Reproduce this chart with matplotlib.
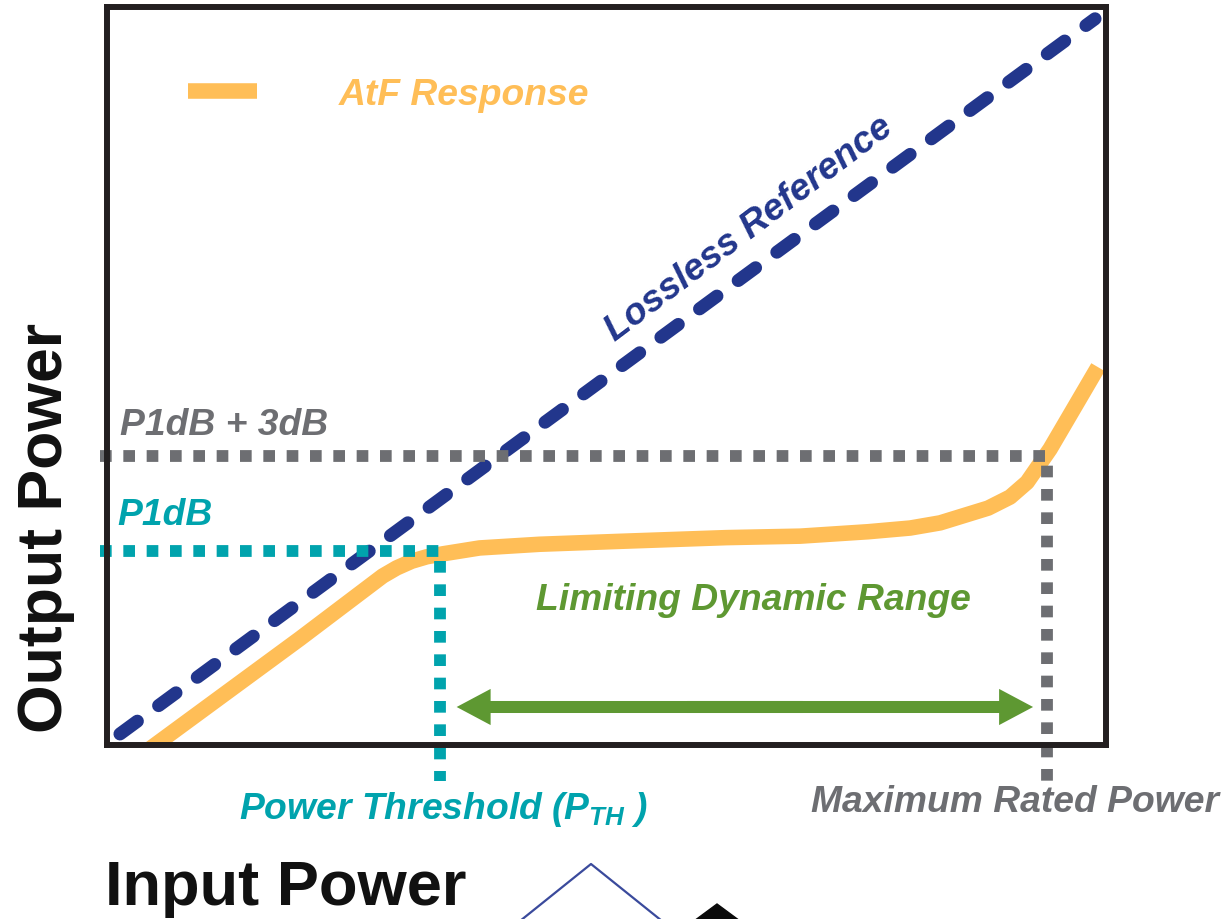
import matplotlib
matplotlib.use('Agg')
import matplotlib.pyplot as plt
from matplotlib.lines import Line2D
from matplotlib.patches import Polygon

plt.rcParams['font.family'] = ['Liberation Sans', 'DejaVu Sans']
plt.rcParams['mathtext.fontset'] = 'custom'
plt.rcParams['mathtext.it'] = 'Liberation Sans:italic:bold'
plt.rcParams['mathtext.rm'] = 'Liberation Sans:bold'
plt.rcParams['mathtext.bf'] = 'Liberation Sans:bold'
plt.rcParams['lines.scale_dashes'] = False

# ---------------- data (relative power units, 0..100) ----------------
atf_x = [1.5, 19.3, 27.6, 29.0, 30.5, 32.0, 33.6, 37.3, 43.3, 51.4, 62.0,
         69.4, 76.2, 80.4, 83.4, 88.2, 90.4, 92.1, 94.4, 99.2]
atf_y = [-3.3, 14.4, 22.9, 24.0, 24.9, 25.5, 25.9, 26.7, 27.2, 27.6, 28.1,
         28.3, 28.9, 29.4, 30.1, 32.1, 33.6, 35.6, 40.1, 51.2]

lossless_x = [1.3, 98.9]
lossless_y = [1.5, 98.4]

threshold_x = 33.3      # Power threshold (P_TH)
max_rated_x = 94.1      # Maximum rated power
p1db_y = 26.3           # P1dB
p1db3_y = 39.2          # P1dB + 3dB
axis_min = -0.7
below_axis = [-4.9, -5.3]   # how far the drop lines extend below the axis

range_x = [35.0, 92.7]  # limiting dynamic range arrow tips
range_y = 5.15

# ---------------- colours ----------------
ORANGE = '#FFBE57'
NAVY = '#22368C'
TEAL = '#00A3AD'
GRAY = '#6D6E72'
GREEN = '#5E9832'
FRAME = '#231F20'

fig = plt.figure(figsize=(12.28, 9.2), dpi=100)
ax = fig.add_axes([107 / 1228, (920 - 746) / 920, 999 / 1228, 738 / 920])
ax.set_xlim(0, 100)
ax.set_ylim(0, 100)
ax.set_xticks([])
ax.set_yticks([])
for s in ax.spines.values():
    s.set_linewidth(4.3)
    s.set_color(FRAME)
    s.set_zorder(10)

# AtF response
atf_line, = ax.plot(atf_x, atf_y, color=ORANGE, lw=11.2, solid_capstyle='butt',
                    solid_joinstyle='round', label='AtF Response', zorder=2)

# Lossless reference
ax.plot(lossless_x, lossless_y, color=NAVY, lw=9.4,
        linestyle=(0, (15.5, 19.0)), dash_capstyle='round', zorder=3)

# P1dB + 3dB / maximum rated power drop line
ax.plot([axis_min, max_rated_x, max_rated_x], [p1db3_y, p1db3_y, below_axis[1]],
        color=GRAY, lw=8.5, linestyle=(0, (8.4, 8.4)), dash_capstyle='butt',
        clip_on=False, zorder=4)
# P1dB / threshold drop line
ax.plot([axis_min, threshold_x, threshold_x], [p1db_y, p1db_y, below_axis[0]],
        color=TEAL, lw=8.5, linestyle=(0, (8.4, 8.4)), dash_capstyle='butt',
        clip_on=False, zorder=4)

# Limiting dynamic range double arrow (two overlapping halves)
mid = (range_x[0] + range_x[1]) / 2
for tip, other in ((range_x[0], range_x[1]), (range_x[1], range_x[0])):
    start = mid + (other - mid) * 0.2
    ax.arrow(start, range_y, tip - start, 0, width=1.63, head_width=4.9,
             head_length=3.4, length_includes_head=True, color=GREEN, lw=0,
             zorder=5)

# legend
leg = ax.legend(handles=[atf_line], loc='center left',
                bbox_to_anchor=(0.081, 0.881), frameon=False,
                prop=dict(size=26.8, weight='bold', style='italic'),
                handlelength=1.85, handletextpad=2.2, borderpad=0,
                borderaxespad=0)
for t in leg.get_texts():
    t.set_color(ORANGE)

tkw = dict(fontsize=26.8, fontweight='bold', fontstyle='italic')
ax.text(64.3, 70.0, 'Lossless Reference', color=NAVY, rotation=37,
        rotation_mode='anchor', ha='center', va='center', **tkw)
ax.text(1.3, 42.1, 'P1dB + 3dB', color=GRAY, ha='left', va='baseline', **tkw)
ax.text(1.0, 29.9, 'P1dB', color=TEAL, ha='left', va='baseline', **tkw)
ax.text(64.7, 18.4, 'Limiting Dynamic Range', color=GREEN, ha='center',
        va='baseline', **tkw)
ax.text(threshold_x + 0.4, -9.9, r'Power Threshold ($P_{TH}$ )', color=TEAL,
        ha='center', va='baseline', clip_on=False, **tkw)
ax.text(90.9, -8.9, 'Maximum Rated Power', color=GRAY, ha='center',
        va='baseline', clip_on=False, **tkw)

# axis titles
ax.set_ylabel('Output Power', fontsize=45, fontweight='bold', color='#111111')
ax.yaxis.set_label_coords(-0.032, 0.295)
ax.set_xlabel('Input Power', fontsize=45.5, fontweight='bold', color='#111111',
              ha='left', va='baseline')
ax.xaxis.set_label_coords(-0.002, -0.2154)

# cropped decoration at the bottom of the slide
def fxy(px, py):
    return px / 1228, 1 - py / 920

dx, dy = zip(*[fxy(520, 922), fxy(591, 865), fxy(662, 922)])
fig.add_artist(Line2D(dx, dy, color='#3A4A9C', lw=1.6,
                      transform=fig.transFigure))
fig.add_artist(Polygon([fxy(694, 922), fxy(717, 905), fxy(740, 922)],
                       closed=True, color='#0A0A0A',
                       transform=fig.transFigure))

fig.savefig('out.png', dpi=100)
